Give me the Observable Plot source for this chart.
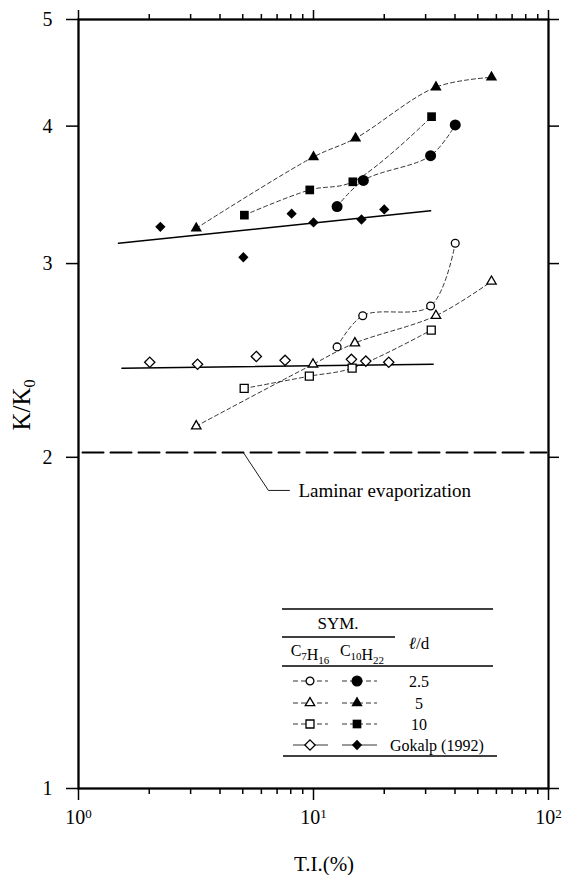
<!DOCTYPE html>
<html><head><meta charset="utf-8">
<script src="https://cdn.jsdelivr.net/npm/d3@7"></script>
<script src="https://cdn.jsdelivr.net/npm/@observablehq/plot@0.6"></script>
<style>
html,body{margin:0;padding:0;background:#fff;}
#chart{position:relative;width:562px;height:875px;}
#chart svg{display:block}
</style></head><body><div id="chart"></div>
<script>
// ---- Data ----
// C10H22 (filled symbols)
const c10_25_x = [12.6, 16.3, 31.5, 40.1];
const c10_25_y = [3.38, 3.57, 3.76, 4.01];
const c10_5_x  = [3.17, 10.0, 15.1, 33.2, 57.2];
const c10_5_y  = [3.23, 3.75, 3.90, 4.34, 4.43];
const c10_10_x = [5.08, 9.64, 14.7, 31.8];
const c10_10_y = [3.32, 3.50, 3.56, 4.08];
const gok_fill_x = [2.23, 5.03, 8.07, 10.0, 16.0, 20.0];
const gok_fill_y = [3.24, 3.04, 3.33, 3.27, 3.29, 3.36];
const fit_fill_x = [1.48, 31.5];
const fit_fill_y = [3.13, 3.35];
// C7H16 (open symbols)
const c7_25_x = [12.6, 16.2, 31.5, 40.1];
const c7_25_y = [2.52, 2.69, 2.745, 3.13];
const c7_5_x  = [3.17, 9.95, 15.0, 33.2, 57.2];
const c7_5_y  = [2.135, 2.43, 2.54, 2.69, 2.89];
const c7_10_x = [5.07, 9.6, 14.6, 31.7];
const c7_10_y = [2.31, 2.37, 2.41, 2.61];
const gok_open_x = [2.01, 3.21, 5.71, 7.57, 14.5, 16.7, 20.9];
const gok_open_y = [2.44, 2.43, 2.47, 2.45, 2.455, 2.446, 2.44];
const fit_open_x = [1.53, 32.3];
const fit_open_y = [2.41, 2.43];
// Laminar evaporization reference level
const laminarX = [1.04, 98];
const laminarY = [2.02, 2.02];
const leaderX = [5.03, 6.43, 7.90];
const leaderY = [2.02, 1.866, 1.866];
const annotX = [8.63];
const annotY = [1.866];
const annotText = ["Laminar evaporization"];
// Ticks
const xMajor = [1, 10, 100];
const xMinor = [2,3,4,5,6,7,8,9,20,30,40,50,60,70,80,90];
const yTicks = [1, 2, 3, 4, 5];
// Legend
const legendLabels = ["2.5", "5", "10", "Gokalp (1992)"];

// ---- helpers ----
const zip = (xs, ys, s) => xs.map((x, i) => ({x, y: ys[i], s}));
const sqDiamond = {draw(ctx, size) {const h = Math.sqrt(size / 2); ctx.moveTo(0, -h); ctx.lineTo(h, 0); ctx.lineTo(0, h); ctx.lineTo(-h, 0); ctx.closePath();}};

const dashedSeries = [
  ...zip(c10_25_x, c10_25_y, "c10_25"), ...zip(c10_5_x, c10_5_y, "c10_5"), ...zip(c10_10_x, c10_10_y, "c10_10"),
  ...zip(c7_25_x, c7_25_y, "c7_25"), ...zip(c7_5_x, c7_5_y, "c7_5"), ...zip(c7_10_x, c7_10_y, "c7_10")
];
const fits = [...zip(fit_fill_x, fit_fill_y, "f"), ...zip(fit_open_x, fit_open_y, "o")];

// symbol specs: [symbol, r]
const SYM = {
  circleF: ["circle", 5.5], triF: ["triangle", 4.2], sqF: ["square", 4.9], diaF: [sqDiamond, 4.1],
  circleO: ["circle", 3.9], triO: ["triangle", 3.5], sqO: ["square", 4.5], diaO: [sqDiamond, 4.1]
};
const filledDot = (xs, ys, k) => Plot.dot(zip(xs, ys), {x: "x", y: "y", symbol: SYM[k][0], r: SYM[k][1], fill: "#000", stroke: "none"});
const openDot = (xs, ys, k) => Plot.dot(zip(xs, ys), {x: "x", y: "y", symbol: SYM[k][0], r: SYM[k][1], fill: "#fff", stroke: "#000", strokeWidth: 1.3});

const FONT = "'Liberation Serif', 'Times New Roman', serif";

const plot = Plot.plot({
  width: 562, height: 875,
  marginLeft: 78, marginRight: 14, marginTop: 19, marginBottom: 87,
  style: {fontFamily: FONT, fontSize: "20px", color: "#000", background: "#fff"},
  x: {type: "log", domain: [1, 100]},
  y: {type: "log", domain: [1, 5]},
  marks: [
    Plot.axisX({anchor: "bottom", ticks: xMajor, tickSize: 12, tickPadding: 9, strokeWidth: 1.5, label: null,
      tickFormat: d => "10^" + Math.round(Math.log10(d))}),
    Plot.axisX({anchor: "bottom", ticks: xMinor, tickSize: 6, strokeWidth: 1.5, label: null, tickFormat: () => ""}),
    Plot.axisX({anchor: "top", ticks: xMajor, tickSize: 10, strokeWidth: 1.5, label: null, tickFormat: () => ""}),
    Plot.axisX({anchor: "top", ticks: xMinor, tickSize: 6, strokeWidth: 1.5, label: null, tickFormat: () => ""}),
    Plot.axisY({anchor: "left", ticks: yTicks, tickSize: 12, tickPadding: 14, strokeWidth: 1.5, label: null, tickFormat: d => String(d)}),
    Plot.axisY({anchor: "right", ticks: yTicks, tickSize: 10, strokeWidth: 1.5, label: null, tickFormat: () => ""}),
    Plot.frame({stroke: "#000", strokeWidth: 2.3}),
    // laminar dashed level + annotation
    Plot.line(zip(laminarX, laminarY), {x: "x", y: "y", stroke: "#000", strokeWidth: 2, strokeDasharray: "21,7"}),
    Plot.line(zip(leaderX, leaderY), {x: "x", y: "y", stroke: "#000", strokeWidth: 0.9}),
    Plot.text(zip(annotX, annotY), {x: "x", y: "y", text: () => annotText[0], textAnchor: "start", fontSize: 19, fill: "#000"}),
    // fit lines
    Plot.line(fits, {x: "x", y: "y", z: "s", stroke: "#000", strokeWidth: 1.5}),
    // dashed connecting curves
    Plot.line(dashedSeries, {x: "x", y: "y", z: "s", curve: "catmull-rom", stroke: "#000", strokeWidth: 0.8, strokeDasharray: "4,3"}),
    // symbols
    openDot(gok_open_x, gok_open_y, "diaO"),
    openDot(c7_25_x, c7_25_y, "circleO"),
    openDot(c7_5_x, c7_5_y, "triO"),
    openDot(c7_10_x, c7_10_y, "sqO"),
    filledDot(gok_fill_x, gok_fill_y, "diaF"),
    filledDot(c10_25_x, c10_25_y, "circleF"),
    filledDot(c10_5_x, c10_5_y, "triF"),
    filledDot(c10_10_x, c10_10_y, "sqF")
  ]
});
document.getElementById("chart").appendChild(plot);

const svg = d3.select(plot);
// superscript powers of ten
svg.selectAll('g[aria-label="x-axis tick label"] text').each(function () {
  const s = this.textContent;
  if (!s.includes("^")) return;
  const [b, e] = s.split("^");
  const t = d3.select(this);
  t.selectAll("*").remove(); t.text(null);
  t.append("tspan").text(b);
  t.append("tspan").attr("dy", "-0.45em").attr("font-size", "13px").text(e);
});

// axis titles
svg.append("text").attr("x", 324).attr("y", 871).attr("text-anchor", "middle")
  .attr("font-family", FONT).attr("font-size", 21).attr("fill", "#000").text("T.I.(%)");
const yl = svg.append("text").attr("transform", "translate(30,405) rotate(-90)").attr("text-anchor", "middle")
  .attr("font-family", FONT).attr("font-size", 25).attr("fill", "#000");
yl.append("tspan").text("K/K");
yl.append("tspan").attr("dy", "0.3em").attr("font-size", "16px").text("0");

// ---- legend table ----
const lg = svg.append("g").attr("font-family", FONT).attr("font-size", 16).attr("fill", "#000");
const hline = (x1, x2, y, w) => lg.append("line").attr("x1", x1).attr("x2", x2).attr("y1", y).attr("y2", y).attr("stroke", "#000").attr("stroke-width", w);
hline(282, 493, 609, 1.5);
hline(282, 395, 637, 1.5);
hline(282, 493, 666, 1.5);
hline(283, 497, 756, 1.5);
lg.append("text").attr("x", 338).attr("y", 629).attr("text-anchor", "middle").attr("font-size", 17).text("SYM.");
const ld = lg.append("text").attr("x", 419).attr("y", 649).attr("text-anchor", "middle").attr("font-size", 17);
ld.append("tspan").attr("font-style", "italic").text("ℓ");
ld.append("tspan").text("/d");
const chem = (x, parts) => {
  const t = lg.append("text").attr("x", x).attr("y", 656).attr("text-anchor", "middle");
  parts.forEach(([s, sub]) => {
    t.append("tspan").text(s);
    t.append("tspan").attr("dy", 4).attr("font-size", 11).text(sub);
    t.append("tspan").attr("dy", -4).text("");
  });
};
chem(310, [["C", "7"], ["H", "16"]]);
chem(362, [["C", "10"], ["H", "22"]]);
const rowY = [681, 703, 724, 745];
const openKeys = ["circleO", "triO", "sqO", "diaO"];
const fillKeys = ["circleF", "triF", "sqF", "diaF"];
const symPath = (k) => {
  const [s, r] = SYM[k];
  const type = s === "circle" ? d3.symbolCircle : s === "triangle" ? d3.symbolTriangle : s === "square" ? d3.symbolSquare : s;
  return d3.symbol(type, Math.PI * r * r)();
};
rowY.forEach((y, i) => {
  const dash = i < 3 ? "5,3" : null;
  lg.append("line").attr("x1", 293).attr("x2", 328).attr("y1", y).attr("y2", y).attr("stroke", "#000").attr("stroke-width", 0.8).attr("stroke-dasharray", dash);
  lg.append("line").attr("x1", 342).attr("x2", 377).attr("y1", y).attr("y2", y).attr("stroke", "#000").attr("stroke-width", 0.8).attr("stroke-dasharray", dash);
  lg.append("path").attr("transform", `translate(310,${y})`).attr("d", symPath(openKeys[i])).attr("fill", "#fff").attr("stroke", "#000").attr("stroke-width", 1.3);
  lg.append("path").attr("transform", `translate(357,${y})`).attr("d", symPath(fillKeys[i])).attr("fill", "#000");
  const lab = legendLabels[i];
  if (i < 3) lg.append("text").attr("x", 419).attr("y", y + 6).attr("text-anchor", "middle").text(lab);
  else lg.append("text").attr("x", 390).attr("y", y + 6).attr("text-anchor", "start").text(lab);
});
</script></body></html>
